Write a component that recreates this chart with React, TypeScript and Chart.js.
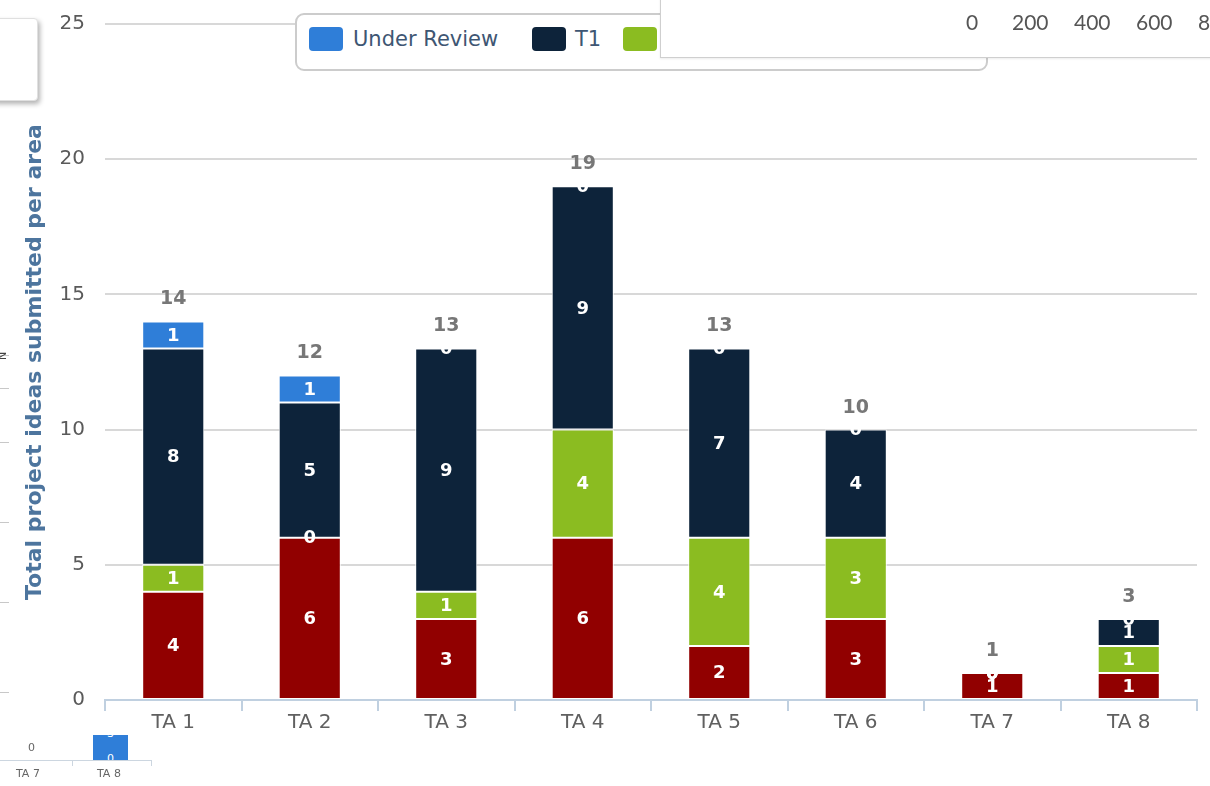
import React, { useEffect, useRef } from "react";
import { Chart, registerables } from "chart.js";

Chart.register(...registerables);

const categories = ["TA 1", "TA 2", "TA 3", "TA 4", "TA 5", "TA 6", "TA 7", "TA 8"];
const seriesNames = ["Under Review", "T1", "T2", "T3"];
const seriesColors = ["#2f7ed8", "#0d233a", "#8bbc21", "#910000"];
const underReview = [1, 1, 0, 0, 0, 0, 0, 0];
const t1 = [8, 5, 9, 9, 7, 4, 0, 1];
const t2 = [1, 0, 1, 4, 4, 3, 0, 1];
const t3 = [4, 6, 3, 6, 2, 3, 1, 1];
const yMax = 25;
const yStep = 5;
const yTitle = "Total project ideas submitted per area";
const overlayAxisLabels = ["0", "200", "400", "600", "8"];
const miniCategories = ["TA 7", "TA 8"];

const FONT = "'DejaVu Sans', Verdana, sans-serif";

const labelsPlugin = {
  id: "stackLabels",
  afterDatasetsDraw(chart: any) {
    const ctx = chart.ctx;
    ctx.save();
    ctx.textAlign = "center";
    ctx.textBaseline = "middle";
    ctx.font = `bold 18px ${FONT}`;
    ctx.fillStyle = "#ffffff";
    chart.data.datasets.forEach((ds: any, di: number) => {
      const meta = chart.getDatasetMeta(di);
      meta.data.forEach((el: any, i: number) => {
        const v = ds.data[i];
        const { x, y, base } = el.getProps(["x", "y", "base"], true);
        ctx.fillText(String(v), x, (y + base) / 2 + 1);
      });
    });
    ctx.font = `bold 19px ${FONT}`;
    ctx.fillStyle = "#777777";
    ctx.textBaseline = "middle";
    categories.forEach((_, i) => {
      let total = 0;
      chart.data.datasets.forEach((ds: any) => (total += ds.data[i]));
      const x = chart.scales.x.getPixelForValue(i);
      const y = chart.scales.y.getPixelForValue(total);
      ctx.fillText(String(total), x, y - 22);
    });
    ctx.restore();
  },
};

function MainChart() {
  const ref = useRef<HTMLCanvasElement>(null);
  useEffect(() => {
    if (!ref.current) return;
    const stackData = [t3, t2, t1, underReview];
    const names = [seriesNames[3], seriesNames[2], seriesNames[1], seriesNames[0]];
    const colors = [seriesColors[3], seriesColors[2], seriesColors[1], seriesColors[0]];
    const chart = new Chart(ref.current, {
      type: "bar",
      data: {
        labels: categories,
        datasets: stackData.map((d, i) => ({
          label: names[i],
          data: d,
          backgroundColor: colors[i],
          borderColor: "#ffffff",
          borderWidth: 1,
          borderSkipped: false,
          categoryPercentage: 1,
          barPercentage: 0.455,
        })),
      },
      options: {
        responsive: false,
        animation: false,
        devicePixelRatio: 1,
        layout: { padding: { left: 0, right: 13, top: 24, bottom: 0 } },
        plugins: { legend: { display: false }, tooltip: { enabled: false } },
        scales: {
          x: {
            stacked: true,
            grid: {
              offset: true,
              drawOnChartArea: false,
              color: "#c0d0e0",
              lineWidth: 2,
              tickLength: 11,
            },
            border: { color: "#c0d0e0", width: 2 },
            ticks: { color: "#606060", font: { size: 20, family: FONT }, padding: 0 },
            afterFit: (s: any) => {
              s.height = 86;
            },
          },
          y: {
            stacked: true,
            min: 0,
            max: yMax,
            ticks: {
              stepSize: yStep,
              color: "#5a5a5a",
              font: { size: 20, family: FONT },
              padding: 20,
            },
            grid: {
              color: (c: any) => (c.tick && c.tick.value === 0 ? "rgba(0,0,0,0)" : "#d8d8d8"),
              lineWidth: 2,
              drawTicks: false,
            },
            border: { display: false },
            title: {
              display: true,
              text: yTitle,
              color: "#4d759e",
              font: { size: 22, weight: "bold", family: FONT },
              padding: { top: 22, bottom: 0 },
            },
            afterFit: (s: any) => {
              s.width = 105;
              s.paddingTop = 0;
              s.paddingBottom = 0;
            },
          },
        },
      },
      plugins: [labelsPlugin],
    } as any);
    return () => chart.destroy();
  }, []);
  return <canvas ref={ref} width={1210} height={786} style={{ display: "block" }} />;
}

export default function App() {
  const legendItems = [
    { name: seriesNames[0], color: seriesColors[0], sq: 12, tx: 56 },
    { name: seriesNames[1], color: seriesColors[1], sq: 235, tx: 278 },
    { name: seriesNames[2], color: seriesColors[2], sq: 326, tx: 369 },
    { name: seriesNames[3], color: seriesColors[3], sq: 430, tx: 473 },
  ];
  const leftMarks = [355, 388, 442, 522, 602, 692];
  const overlayX = [966, 1012, 1074, 1136, 1198];
  return (
    <div
      style={{
        position: "absolute",
        left: 0,
        top: 0,
        width: 1210,
        height: 786,
        overflow: "hidden",
        background: "#ffffff",
        fontFamily: FONT,
      }}
    >
      <MainChart />

      {/* legend */}
      <div
        style={{
          position: "absolute",
          left: 295,
          top: 13,
          width: 689,
          height: 54,
          border: "2px solid #cccccc",
          borderRadius: 9,
          background: "#ffffff",
        }}
      >
        {legendItems.map((it) => (
          <React.Fragment key={it.name}>
            <div
              style={{
                position: "absolute",
                left: it.sq,
                top: 12,
                width: 34,
                height: 24,
                borderRadius: 4,
                background: it.color,
              }}
            />
            <div
              style={{
                position: "absolute",
                left: it.tx,
                top: 11,
                fontSize: 21,
                lineHeight: "26px",
                color: "#3e5673",
                whiteSpace: "nowrap",
              }}
            >
              {it.name}
            </div>
          </React.Fragment>
        ))}
      </div>

      {/* top-right overlay panel */}
      <div
        style={{
          position: "absolute",
          left: 660,
          top: -2,
          width: 560,
          height: 58,
          background: "#ffffff",
          border: "1px solid #cfcfcf",
          boxShadow: "0 1px 2px rgba(0,0,0,0.08)",
        }}
      />
      {overlayAxisLabels.map((t, i) => (
        <div
          key={"ov" + i}
          style={{
            position: "absolute",
            left: overlayX[i],
            top: 9,
            fontFamily: "Lato, 'Open Sans', sans-serif",
            fontSize: 21,
            lineHeight: "26px",
            color: "#555555",
            whiteSpace: "nowrap",
          }}
        >
          {t}
        </div>
      ))}

      {/* top-left overlay box */}
      <div
        style={{
          position: "absolute",
          left: -8,
          top: 18,
          width: 44,
          height: 81,
          background: "#ffffff",
          border: "1px solid #e0e0e0",
          borderRadius: 4,
          boxShadow: "2px 3px 5px rgba(0,0,0,0.3)",
        }}
      />

      {/* left edge marks */}
      {leftMarks.map((y, i) => (
        <div
          key={"lm" + i}
          style={{ position: "absolute", left: 0, top: y, width: 9, height: 1, background: "#c8c8c8" }}
        />
      ))}
      <div
        style={{
          position: "absolute",
          left: -4,
          top: 360,
          fontSize: 11,
          color: "#444",
          transform: "rotate(-90deg)",
          transformOrigin: "left top",
        }}
      >
        N
      </div>

      {/* bottom-left mini chart fragment */}
      <div style={{ position: "absolute", left: 0, top: 760, width: 152, height: 1, background: "#ccd6e0" }} />
      <div style={{ position: "absolute", left: 72, top: 760, width: 1, height: 6, background: "#ccd6e0" }} />
      <div style={{ position: "absolute", left: 151, top: 760, width: 1, height: 6, background: "#ccd6e0" }} />
      <div style={{ position: "absolute", left: 93, top: 735, width: 35, height: 25, background: "#2f7ed8", overflow: "hidden" }}>
        <div style={{ position: "absolute", left: 0, width: 35, top: -8, textAlign: "center", fontSize: 11, color: "#fff" }}>3</div>
        <div style={{ position: "absolute", left: 0, width: 35, top: 17, textAlign: "center", fontSize: 11, color: "#fff" }}>0</div>
      </div>
      <div style={{ position: "absolute", left: 28, top: 741, fontSize: 11, color: "#666" }}>0</div>
      {miniCategories.map((c, i) => (
        <div
          key={c}
          style={{
            position: "absolute",
            left: i === 0 ? 16 : 97,
            top: 767,
            fontSize: 11,
            color: "#666",
            whiteSpace: "nowrap",
          }}
        >
          {c}
        </div>
      ))}
    </div>
  );
}
